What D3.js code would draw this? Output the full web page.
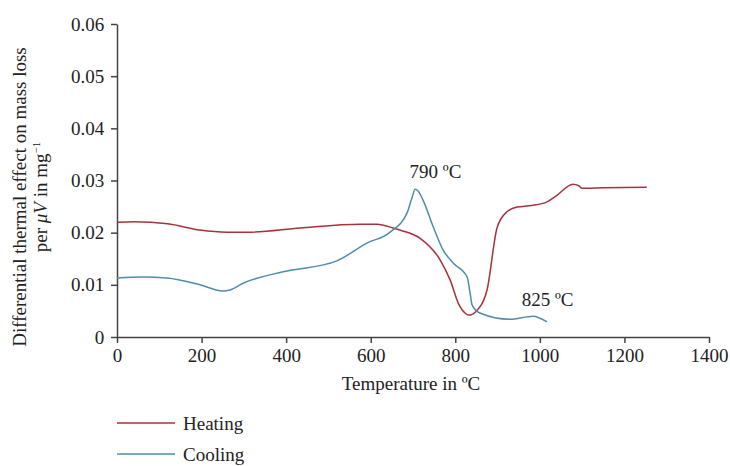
<!DOCTYPE html>
<meta charset="utf-8">
<body style="margin:0;background:#fff">
<script src="https://cdn.jsdelivr.net/npm/d3@7"></script>
<script>

var width = 730,
  height = 466;

var margin = {left: 117, right: 21, top: 24, bottom: 129};

// temperature in C, signal
var heatT = [0, 40, 120, 196, 260, 315, 433, 575, 615, 653, 669, 717, 764, 788, 807, 823, 832, 850, 875, 899, 922, 946, 980, 1017, 1041, 1078, 1092, 1100, 1150, 1253];
var heatV = [0.0220, 0.0221, 0.0217, 0.0205, 0.0201, 0.0201, 0.0209, 0.0216, 0.0216, 0.0209, 0.0205, 0.0189, 0.0148, 0.0109, 0.0065, 0.0046, 0.0042, 0.0050, 0.0090, 0.0210, 0.0240, 0.0249, 0.0252, 0.0259, 0.0272, 0.0293, 0.0290, 0.0285, 0.0286, 0.0287];

var coolT = [0, 61, 118, 196, 251, 267, 298, 393, 520, 591, 646, 686, 698, 705, 712, 724, 748, 771, 795, 828, 835, 840, 858, 929, 984, 1017];
var coolV = [0.0113, 0.0115, 0.0113, 0.0100, 0.0088, 0.0090, 0.0103, 0.0125, 0.0146, 0.0180, 0.0201, 0.0238, 0.0268, 0.0283, 0.0280, 0.0262, 0.0211, 0.0167, 0.0142, 0.0115, 0.0084, 0.0061, 0.0046, 0.0034, 0.0040, 0.0029];

var xTicks = [0, 200, 400, 600, 800, 1000, 1200, 1400];
var yTicks = [0, 0.01, 0.02, 0.03, 0.04, 0.05, 0.06];

var series = [
  {name: "Heating", color: "#a8323a", t: heatT, v: heatV},
  {name: "Cooling", color: "#4f8cab", t: coolT, v: coolV}
];

var notes = [
  {text: "790 ºC", t: 692, v: 0.0305},
  {text: "825 ºC", t: 957, v: 0.0059}
];

var font = "'Liberation Serif', 'DejaVu Serif', serif";
var fs = "19px";
var axisColor = "#444";

var svg = d3.select("body").append("svg")
  .attr("width", width)
  .attr("height", height)
  .style("font-family", font)

var x = d3.scaleLinear().domain([0, 1400]).range([margin.left, width - margin.right]);
var y = d3.scaleLinear().domain([0, 0.06]).range([height - margin.bottom, margin.top]);

var xAxis = svg.append("g")
  .attr("transform", "translate(0," + y(0) + ")")
  .call(d3.axisBottom(x).tickValues(xTicks).tickSize(6).tickSizeOuter(0).tickFormat(d3.format("d")))

var yAxis = svg.append("g")
  .attr("transform", "translate(" + x(0) + ",0)")
  .call(d3.axisLeft(y).tickValues(yTicks).tickSize(6).tickSizeOuter(0).tickFormat(function(d) { return d === 0 ? "0" : d3.format(".2f")(d); }))

svg.selectAll(".domain, .tick line")
  .attr("stroke", axisColor)
  .attr("stroke-width", 1.5)

svg.selectAll(".tick text")
  .attr("fill", "#222")
  .style("font-family", font)
  .style("font-size", fs)

xAxis.selectAll(".tick text").attr("dy", "0.85em")
yAxis.selectAll(".tick text").attr("dx", "-0.2em")

var line = d3.line()
  .x(function(d) { return x(d[0]); })
  .y(function(d) { return y(d[1]); })
  .curve(d3.curveMonotoneX);

series.forEach(function(s) {
  svg.append("path")
    .datum(d3.zip(s.t, s.v))
    .attr("fill", "none")
    .attr("stroke", s.color)
    .attr("stroke-width", 1.5)
    .attr("d", line);
});

notes.forEach(function(n) {
  svg.append("text")
    .attr("x", x(n.t))
    .attr("y", y(n.v))
    .attr("fill", "#222")
    .style("font-size", fs)
    .text(n.text);
});

// axis titles
svg.append("text")
  .attr("x", x(700) - 2)
  .attr("y", 390)
  .attr("text-anchor", "middle")
  .attr("fill", "#222")
  .style("font-size", fs)
  .text("Temperature in ºC");

var yTitle = svg.append("text")
  .attr("transform", "translate(26,197) rotate(-90)")
  .attr("text-anchor", "middle")
  .attr("fill", "#222")
  .style("font-size", fs)

yTitle.append("tspan")
  .attr("x", 0)
  .attr("y", 0)
  .text("Differential thermal effect on mass loss")

var l2 = yTitle.append("tspan")
  .attr("x", 0)
  .attr("y", 21)
l2.append("tspan").text("per ")
l2.append("tspan").style("font-style", "italic").text("μV")
l2.append("tspan").text(" in mg")
l2.append("tspan").attr("dy", -7).style("font-size", "11px").text("−1")

// legend
var legend = svg.selectAll(".legend")
  .data(series)
  .enter().append("g")
  .attr("class", "legend")
  .attr("transform", function(d, i) { return "translate(117," + (423 + i * 31) + ")"; })

legend.append("line")
  .attr("x1", 0).attr("x2", 58)
  .attr("stroke", function(d) { return d.color; })
  .attr("stroke-width", 1.5)

legend.append("text")
  .attr("x", 66)
  .attr("dy", "0.35em")
  .attr("fill", "#222")
  .style("font-size", fs)
  .text(function(d) { return d.name; })

</script>
</body>
